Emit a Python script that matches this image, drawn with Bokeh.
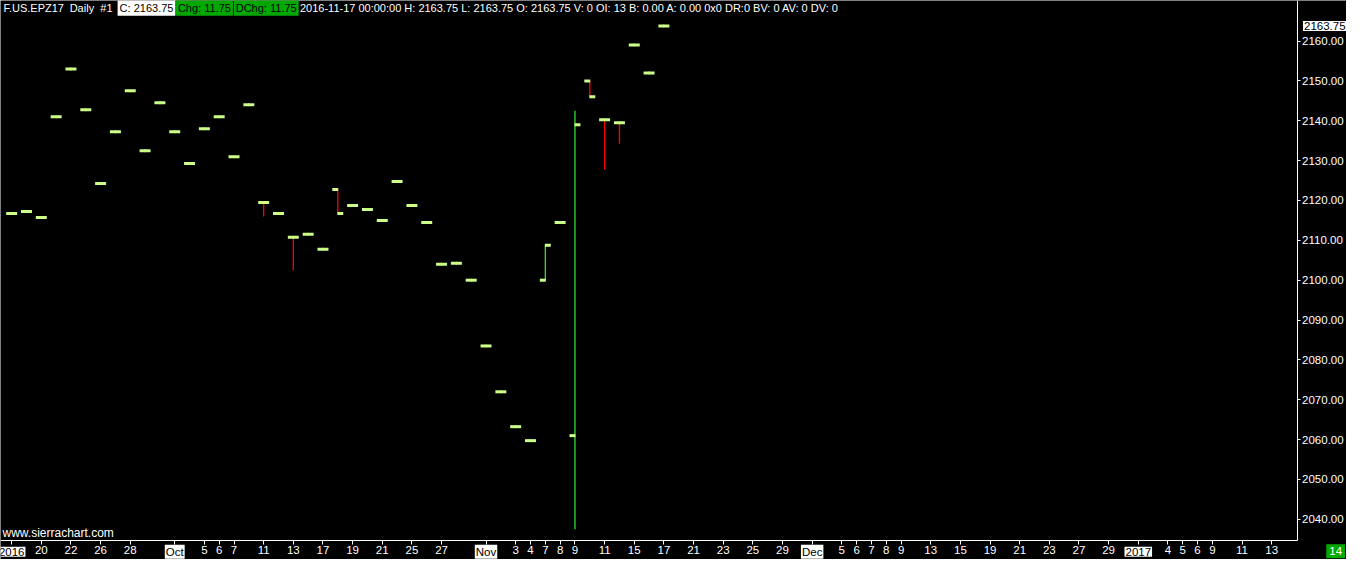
from bokeh.plotting import figure
from bokeh.models import Range1d, FixedTicker, NumeralTickFormatter, Label, ColumnDataSource
from bokeh.transform import dodge
from bokeh.embed import file_html
from bokeh.resources import INLINE

# ---------------- data ----------------
dates = ["2016-09-16", "2016-09-19", "2016-09-20", "2016-09-21", "2016-09-22", "2016-09-23",
         "2016-09-26", "2016-09-27", "2016-09-28", "2016-09-29", "2016-09-30",
         "2016-10-03", "2016-10-04", "2016-10-05", "2016-10-06", "2016-10-07",
         "2016-10-10", "2016-10-11", "2016-10-12", "2016-10-13", "2016-10-14",
         "2016-10-17", "2016-10-18", "2016-10-19", "2016-10-20", "2016-10-21",
         "2016-10-24", "2016-10-25", "2016-10-26", "2016-10-27", "2016-10-28",
         "2016-10-31", "2016-11-01", "2016-11-02", "2016-11-03", "2016-11-04",
         "2016-11-07", "2016-11-08", "2016-11-09", "2016-11-10", "2016-11-11",
         "2016-11-14", "2016-11-15", "2016-11-16", "2016-11-17"]

opens = [2116.75, 2117.25, 2115.75, 2141.00, 2153.00, 2142.75,
         2124.25, 2137.25, 2147.50, 2132.50, 2144.50,
         2137.25, 2129.25, 2138.00, 2141.00, 2131.00,
         2144.00, 2119.50, 2116.75, 2110.75, 2111.50,
         2107.75, 2122.75, 2118.75, 2117.75, 2115.00,
         2124.75, 2118.75, 2114.50, 2104.00, 2104.25,
         2100.00, 2083.50, 2072.00, 2063.25, 2059.75,
         2100.00, 2114.50, 2061.00, 2150.00, 2140.25,
         2139.50, 2159.00, 2152.00, 2163.75]

highs = [2116.75, 2117.25, 2115.75, 2141.00, 2153.00, 2142.75,
         2124.25, 2137.25, 2147.50, 2132.50, 2144.50,
         2137.25, 2129.25, 2138.00, 2141.00, 2131.00,
         2144.00, 2119.50, 2116.75, 2110.75, 2111.50,
         2107.75, 2122.75, 2118.75, 2117.75, 2115.00,
         2124.75, 2118.75, 2114.50, 2104.00, 2104.25,
         2100.00, 2083.50, 2072.00, 2063.25, 2059.75,
         2108.75, 2114.50, 2142.50, 2150.00, 2140.25,
         2139.50, 2159.00, 2152.00, 2163.75]

lows = [2116.75, 2117.25, 2115.75, 2141.00, 2153.00, 2142.75,
        2124.25, 2137.25, 2147.50, 2132.50, 2144.50,
        2137.25, 2129.25, 2138.00, 2141.00, 2131.00,
        2144.00, 2116.00, 2116.75, 2102.50, 2111.50,
        2107.75, 2116.75, 2118.75, 2117.75, 2115.00,
        2124.75, 2118.75, 2114.50, 2104.00, 2104.25,
        2100.00, 2083.50, 2072.00, 2063.25, 2059.75,
        2100.00, 2114.50, 2037.50, 2146.00, 2127.75,
        2134.25, 2159.00, 2152.00, 2163.75]

closes = [2116.75, 2117.25, 2115.75, 2141.00, 2153.00, 2142.75,
          2124.25, 2137.25, 2147.50, 2132.50, 2144.50,
          2137.25, 2129.25, 2138.00, 2141.00, 2131.00,
          2144.00, 2119.50, 2116.75, 2110.75, 2111.50,
          2107.75, 2116.75, 2118.75, 2117.75, 2115.00,
          2124.75, 2118.75, 2114.50, 2104.00, 2104.25,
          2100.00, 2083.50, 2072.00, 2063.25, 2059.75,
          2108.75, 2114.50, 2139.00, 2146.00, 2140.25,
          2139.50, 2159.00, 2152.00, 2163.75]

# x-axis date labels (bar index -> label); boxed ones are period starts
xtick_pos = [0, 2, 4, 6, 8, 11, 13, 14, 15, 17, 19, 21, 23, 25, 27, 29,
             32, 34, 35, 36, 37, 38, 40, 42, 44, 46, 48, 50, 52,
             54, 56, 57, 58, 59, 60, 62, 64, 66, 68, 70, 72, 74,
             76, 78, 79, 80, 81, 83, 85]
xtick_labels = ["2016", "20", "22", "26", "28", "Oct", "5", "6", "7", "11", "13", "17", "19", "21", "25", "27",
                "Nov", "3", "4", "7", "8", "9", "11", "15", "17", "21", "23", "25", "29",
                "Dec", "5", "6", "7", "8", "9", "13", "15", "19", "21", "23", "27", "29",
                "2017", "4", "5", "6", "9", "11", "13"]
boxed_labels = ["2016", "Oct", "Nov", "Dec", "2017"]

price_ticks = [2040, 2050, 2060, 2070, 2080, 2090, 2100, 2110, 2120, 2130, 2140, 2150, 2160]

symbol_parts = ["F.US.EPZ17", "Daily", "#1"]
last_close = closes[-1]
chg = closes[-1] - closes[-2]
info = "2016-11-17 00:00:00 H: 2163.75 L: 2163.75 O: 2163.75 V: 0 OI: 13 B: 0.00 A: 0.00 0x0 DR:0 BV: 0 AV: 0 DV: 0"
bar_spacing_label = "14"

# ---------------- layout helpers (reference pixel -> data) ----------------
def px2x(px):
    return (px - 11.3) / 15.0

def px2y(py):
    return 2160.0 - (py - 41.7) / 4.1

FONT = "Liberation Sans"
FS = "11px"
AXFS = "11.5px"
TICK_COLOR = "#ccff88"
UP = "#33dd33"
DOWN = "#ff0000"
BOX_GREEN = "#00a800"

W, H = 1346, 559
p = figure(width=W, height=H, output_backend="svg", toolbar_location=None,
           x_range=Range1d(px2x(0), px2x(1362)), y_range=Range1d(px2y(575), px2y(0)),
           background_fill_color="black", border_fill_color="black",
           min_border_left=0, min_border_top=0, min_border_right=0, min_border_bottom=0,
           y_axis_location="right")
p.outline_line_color = None
p.grid.visible = False

src = ColumnDataSource(dict(
    x=list(range(len(dates))), date=dates, open=opens, high=highs, low=lows, close=closes,
    color=[UP if c > o else DOWN for o, c in zip(opens, closes)],
))

p.segment(x0="x", y0="low", x1="x", y1="high", line_color="color", line_width=1.3, source=src)
p.segment(x0=dodge("x", -0.37, range=p.x_range), y0="open", x1=dodge("x", 0.03, range=p.x_range), y1="open",
          line_color=TICK_COLOR, line_width=3, source=src)
p.segment(x0=dodge("x", -0.03, range=p.x_range), y0="close", x1=dodge("x", 0.37, range=p.x_range), y1="close",
          line_color=TICK_COLOR, line_width=3, source=src)

# x axis (placed inside the frame, like the chart's own scale)
xa = p.xaxis[0]
xa.fixed_location = px2y(555)
xa.bounds = (px2x(0), px2x(1312))
xa.ticker = FixedTicker(ticks=xtick_pos)
xa.major_label_overrides = {pos: ("" if lab in boxed_labels else lab) for pos, lab in zip(xtick_pos, xtick_labels)}
xa.axis_line_color = "white"
xa.major_tick_line_color = "white"
xa.major_tick_out = 4
xa.major_tick_in = 0
xa.minor_tick_line_color = None
xa.major_label_text_color = "white"
xa.major_label_text_font = FONT
xa.major_label_text_font_size = AXFS
xa.major_label_standoff = 2

# y axis
ya = p.yaxis[0]
ya.fixed_location = px2x(1312)
ya.bounds = (px2y(555), px2y(0))
ya.ticker = FixedTicker(ticks=price_ticks)
ya.formatter = NumeralTickFormatter(format="0.00")
ya.axis_line_color = "white"
ya.major_tick_line_color = "white"
ya.major_tick_out = 3
ya.major_tick_in = 0
ya.minor_tick_line_color = None
ya.major_label_text_color = "white"
ya.major_label_text_font = FONT
ya.major_label_text_font_size = AXFS
ya.major_label_standoff = 2

def lab(x, y, text, color="white", bg=None, align="left", pad=1, fs=FS):
    kw = dict(x=x, y=y, text=text, text_color=color, text_font=FONT, text_font_size=fs,
              text_baseline="middle", text_align=align)
    if bg is not None:
        kw.update(background_fill_color=bg, padding=pad)
    p.add_layout(Label(**kw))

# boxed period labels on the date axis
for pos, l in zip(xtick_pos, xtick_labels):
    if l in boxed_labels:
        lab(pos, px2y(567), l, color="black", bg="white", align="center", fs=AXFS)

# header line
ty = px2y(7.5)
for xp, t in zip([3, 70, 101], symbol_parts):
    lab(px2x(xp), ty, t)
lab(px2x(118.5), ty, "C: %.2f" % last_close, color="black", bg="white", pad=2)
lab(px2x(177.5), ty, "Chg: %.2f" % chg, color="black", bg=BOX_GREEN, pad=2)
lab(px2x(236), ty, "DChg: %.2f" % chg, color="black", bg=BOX_GREEN, pad=2)
lab(px2x(303), ty, info)

# current price marker on the price scale
lab(px2x(1318), last_close, "%.2f" % last_close, color="black", bg="white", fs=AXFS)
# watermark and bar spacing box
lab(px2x(2), px2y(548), "www.sierrachart.com", fs="12px")
lab(px2x(1351), px2y(566.5), bar_spacing_label, color="white", bg=BOX_GREEN, align="center", pad=3, fs=AXFS)

open("out.html", "w").write(file_html(p, INLINE))
